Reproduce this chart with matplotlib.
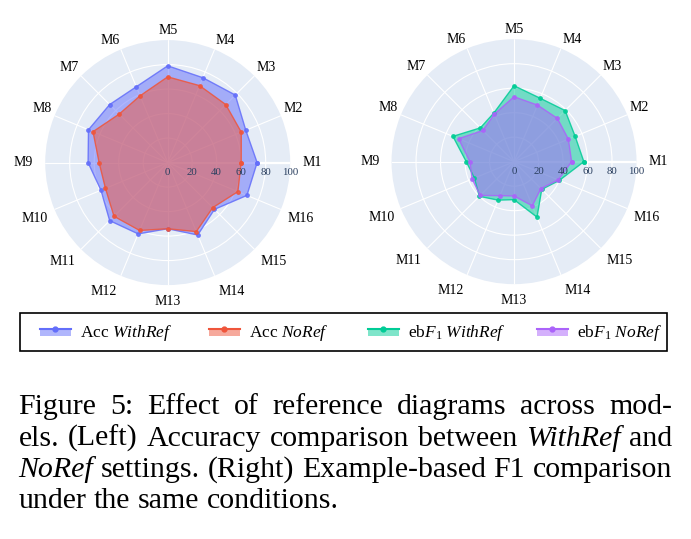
import numpy as np
import matplotlib.pyplot as plt
from matplotlib.patches import Rectangle

plt.rcParams['font.family'] = ['Liberation Serif', 'DejaVu Serif']
plt.rcParams['mathtext.fontset'] = 'custom'
plt.rcParams['mathtext.rm'] = 'Liberation Serif'
plt.rcParams['mathtext.it'] = 'Liberation Serif:italic'

models = ['M%d' % i for i in range(1, 17)]
acc_with = [73, 69, 78, 75, 79, 67, 67, 70, 65, 59, 67, 63, 54, 64, 54, 70]
acc_no = [60, 65, 67, 68, 70, 59, 56, 66, 56, 55, 62, 60, 54, 61, 52, 62]
f1_with = [57, 54, 59, 56, 62, 43, 39, 54, 39, 35, 40, 34, 31, 49, 32, 40]
f1_no = [47, 48, 50, 50, 53, 42, 36, 49, 36, 37, 39, 30, 28, 39, 31, 39]
r_ticks = [0, 20, 40, 60, 80, 100]

blue, red, green, purple = '#636EFA', '#EF553B', '#00CC96', '#AB63FA'
bg = '#E5ECF6'
tick_col = '#2a3f5f'

theta = np.arange(len(models)) * 2 * np.pi / len(models)

fig = plt.figure(figsize=(6.91, 5.39), dpi=100)
ax1 = fig.add_axes([0.0654, 0.4711, 0.3546, 0.4545], projection='polar')
ax2 = fig.add_axes([0.5666, 0.4728, 0.3546, 0.4545], projection='polar')


def setup(ax):
    ax.set_facecolor(bg)
    ax.set_ylim(0, 100)
    ax.spines['polar'].set_visible(False)
    ax.set_xticks(theta)
    ax.set_xticklabels([])
    ax.set_yticks([20, 40, 60, 80])
    ax.set_yticklabels([])
    ax.set_axisbelow(True)
    ax.grid(color='white', lw=0.8)
    ax.plot([0, 0], [0, 100], color='white', lw=1.6, zorder=0.6)
    for v in r_ticks:
        ax.annotate(str(v), xy=(0, v), xytext=(0, -10), textcoords='offset pixels',
                    ha='center', va='center', fontsize=7.8, color=tick_col,
                    zorder=10, annotation_clip=False)
    for ang, name in zip(theta, models):
        c, s = np.cos(ang), np.sin(ang)
        ha = 'left' if c > 0.3 else ('right' if c < -0.3 else 'center')
        if s > 0.3:
            va, off = 'bottom', 3
        elif s < -0.3:
            va, off = 'top', 5 + 5 * abs(s)
        else:
            va, off = 'center', 12
        ax.annotate(name, xy=(ang, 100), xytext=(off * c, off * s),
                    textcoords='offset pixels', ha=ha, va=va, fontsize=10,
                    annotation_clip=False)


def radar(ax, vals, col):
    t = np.append(theta, theta[0])
    v = np.append(vals, vals[0])
    ax.fill(t, v, color=col, alpha=0.5, lw=0, zorder=1)
    ax.plot(t, v, color=col, lw=1, marker='o', ms=2.5, alpha=0.85, zorder=2)


setup(ax1)
setup(ax2)
radar(ax1, acc_with, blue)
radar(ax1, acc_no, red)
radar(ax2, f1_with, green)
radar(ax2, f1_no, purple)

# legend and caption in pixel coordinates
lay = fig.add_axes([0, 0, 1, 1], zorder=-1)
lay.set_xlim(0, 691)
lay.set_ylim(539, 0)
lay.axis('off')
lay.add_patch(Rectangle((20, 313), 647, 38, fill=False, ec='black', lw=1.2))
leg_labels = [r'Acc $\mathit{WithRef}$', r'Acc $\mathit{NoRef}$',
              r'eb$F_1$ $\mathit{WithRef}$', r'eb$F_1$ $\mathit{NoRef}$']
leg_cols = [blue, red, green, purple]
leg_x = [40, 209, 368, 537]
for x0, lab, col in zip(leg_x, leg_labels, leg_cols):
    lay.add_patch(Rectangle((x0, 329), 31, 7, color=col, alpha=0.5, lw=0))
    lay.plot([x0, x0 + 31], [329, 329], color=col, lw=1.5)
    lay.plot([x0 + 15.5], [329], 'o', color=col, ms=3.5)
    lay.text(x0 + 40, 333, lab, fontsize=12.5, va='center', ha='left')

caption = [
    [('Figure', 0), ('5:', 0), ('Effect', 0), ('of', 0), ('reference', 0),
     ('diagrams', 0), ('across', 0), ('mod-', 0)],
    [('els.', 0), ('(Left)', 0), ('Accuracy', 0), ('comparison', 0),
     ('between', 0), ('WithRef', 1), ('and', 0)],
    [('NoRef', 1), ('settings.', 0), ('(Right)', 0), ('Example-based', 0),
     ('F1', 0), ('comparison', 0)],
    [('under', 0), ('the', 0), ('same', 0), ('conditions.', 0)],
]
baselines = [414, 445.5, 477, 508.5]
x_left, x_right = 18.5, 672
fs = 21.5
renderer = fig.canvas.get_renderer()
for k, (words, yb) in enumerate(zip(caption, baselines)):
    objs = [lay.text(0, yb, w, fontsize=fs, va='baseline', ha='left',
                     style='italic' if it else 'normal') for w, it in words]
    widths = [o.get_window_extent(renderer).width for o in objs]
    if k < len(caption) - 1:
        gap = (x_right - x_left - sum(widths)) / (len(objs) - 1)
    else:
        gap = fs * 100 / 72 * 0.25
    x = x_left
    for o, w in zip(objs, widths):
        o.set_x(x)
        x += w + gap

fig.savefig('out.png', dpi=100)
